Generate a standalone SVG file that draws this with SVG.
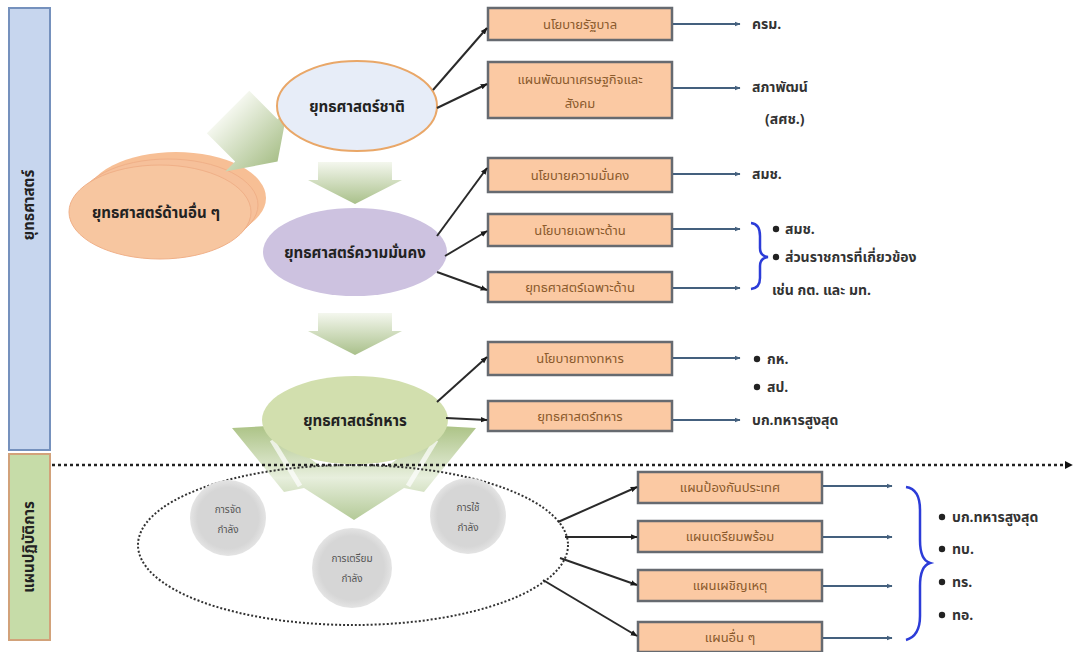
<svg xmlns="http://www.w3.org/2000/svg" width="1078" height="652" viewBox="0 0 1078 652">
  <style>
    text { font-family: "Noto Sans Thai", "Loma", "Garuda", "Noto Sans", "DejaVu Sans", sans-serif; }
    .box { fill: #fbc9a3; stroke: #666a70; stroke-width: 2.5; }
    .boxt { font-size: 13px; fill: #8a5a2c; text-anchor: middle; }
    .ell { font-size: 15px; font-weight: bold; fill: #222; text-anchor: middle; }
    .lbl { font-size: 14px; font-weight: bold; fill: #333; }
    .conn { stroke: #2a2a2a; stroke-width: 2; fill: none; marker-end: url(#dot); }
    .out { stroke: #44607e; stroke-width: 1.8; fill: none; marker-end: url(#tri); }
    .ct { font-size: 10px; fill: #555; text-anchor: middle; }
    .brace { stroke: #2c3cd8; stroke-width: 2.5; fill: none; }
    .side { font-size: 15px; font-weight: bold; fill: #222; text-anchor: middle; }
  </style>
  <defs>
    <marker id="tri" viewBox="0 0 10 10" refX="9" refY="5" markerWidth="6" markerHeight="6" orient="auto" markerUnits="userSpaceOnUse">
      <path d="M0,1 L10,5 L0,9 z" fill="#44607e"/>
    </marker>
    <marker id="dot" viewBox="0 0 10 10" refX="9" refY="5" markerWidth="7" markerHeight="7" orient="auto" markerUnits="userSpaceOnUse">
      <path d="M0,1 L10,5 L0,9 z" fill="#1a1a1a"/>
    </marker>
    <marker id="dash" viewBox="0 0 10 10" refX="9" refY="5" markerWidth="8" markerHeight="8" orient="auto" markerUnits="userSpaceOnUse">
      <path d="M0,0 L10,5 L0,10 z" fill="#111"/>
    </marker>
    <linearGradient id="gDown" x1="0" y1="0" x2="0" y2="1">
      <stop offset="0" stop-color="#f4f7ee"/>
      <stop offset="1" stop-color="#a9c08a"/>
    </linearGradient>
    <linearGradient id="gFan" x1="0" y1="0" x2="0" y2="1">
      <stop offset="0" stop-color="#a8c080"/>
      <stop offset="0.55" stop-color="#e6eedb"/>
      <stop offset="1" stop-color="#b0c792"/>
    </linearGradient>
    <radialGradient id="gCirc" cx="0.5" cy="0.5" r="0.5">
      <stop offset="0.8" stop-color="#d6d6d6"/>
      <stop offset="1" stop-color="#e4e4e4"/>
    </radialGradient>
    <path id="blockArrow" d="M -30,-48 L 30,-48 L 30,-8 L 44,-8 L 0,22 L -44,-8 L -30,-8 z"/>
  </defs>

  <rect width="1078" height="652" fill="#ffffff"/>

  <!-- side bands -->
  <g id="band-strategy">
    <rect x="9" y="8" width="41" height="442" fill="#c7d6ee" stroke="#7591bd" stroke-width="2"/>
    <text class="side" transform="translate(34,205) rotate(-90)">ยุทธศาสตร์</text>
  </g>
  <g id="band-operations">
    <rect x="9" y="454" width="41" height="186" fill="#c6dca8" stroke="#d2a27a" stroke-width="2"/>
    <text class="side" transform="translate(34,547) rotate(-90)">แผนปฏิบัติการ</text>
  </g>

  <!-- vertical block arrows -->
  <g id="flow-arrows">
    <path d="M 318,162 L 392,162 L 392,180 L 402,180 L 355,204 L 308,180 L 318,180 z" fill="url(#gDown)"/>
    <path d="M 318,313 L 392,313 L 392,331 L 402,331 L 355,355 L 308,331 L 318,331 z" fill="url(#gDown)"/>
    <!-- fan of three arrows below the military strategy -->
    <path d="M 232,428 L 268,426 L 320,466 L 388,466 L 440,426 L 476,428 L 424,492 L 404,488 L 354,520 L 304,488 L 284,492 z" fill="url(#gFan)" opacity="0.95"/>
    <path d="M 272,440 L 300,486" stroke="#ffffff" stroke-width="5" opacity="0.7"/>
    <path d="M 436,440 L 408,486" stroke="#ffffff" stroke-width="5" opacity="0.7"/>
  </g>

  <!-- dotted divider -->
  <line x1="52" y1="465" x2="1072" y2="465" stroke="#222" stroke-width="2.5" stroke-dasharray="3,3" marker-end="url(#dash)"/>

  <!-- strategy nodes -->
  <g id="node-other">
    <ellipse cx="176" cy="198" rx="90" ry="46" fill="#f7bf95"/>
    <ellipse cx="168" cy="205" rx="90" ry="46" fill="#f6c09a" stroke="#f0b088" stroke-width="1"/>
    <ellipse cx="160" cy="212" rx="91" ry="47" fill="#f7c6a0" stroke="#f0b088" stroke-width="1"/>
    <text class="ell" x="156" y="218">ยุทธศาสตร์ด้านอื่น ๆ</text>
  </g>

  <!-- diagonal block arrow towards the other strategies -->
  <g id="flow-arrow-diagonal">
    <use href="#blockArrow" fill="url(#gDown)" transform="translate(262,146) rotate(-45)"/>
  </g>

  <g id="node-national">
    <ellipse cx="357" cy="106" rx="80" ry="45" fill="#e7edf8" stroke="#e9a768" stroke-width="2"/>
    <text class="ell" x="357" y="112">ยุทธศาสตร์ชาติ</text>
  </g>
  <g id="node-security">
    <ellipse cx="355" cy="252" rx="92" ry="44" fill="#cdc2e0"/>
    <text class="ell" x="355" y="258">ยุทธศาสตร์ความมั่นคง</text>
  </g>
  <g id="node-military">
    <ellipse cx="355" cy="420" rx="93" ry="44" fill="#d2dfae"/>
    <text class="ell" x="355" y="426">ยุทธศาสตร์ทหาร</text>
  </g>

  <!-- force cluster -->
  <g id="node-force">
    <ellipse cx="353" cy="545" rx="215" ry="80" fill="none" stroke="#333" stroke-width="2" stroke-dasharray="2,2"/>
    <circle cx="228" cy="518" r="38" fill="url(#gCirc)"/>
    <text class="ct" x="228" y="513">การจัด</text>
    <text class="ct" x="228" y="533">กำลัง</text>
    <circle cx="352" cy="568" r="40" fill="url(#gCirc)"/>
    <text class="ct" x="352" y="562">การเตรียม</text>
    <text class="ct" x="352" y="582">กำลัง</text>
    <circle cx="468" cy="516" r="38" fill="url(#gCirc)"/>
    <text class="ct" x="468" y="511">การใช้</text>
    <text class="ct" x="468" y="531">กำลัง</text>
  </g>

  <!-- document boxes -->
  <g id="box-gov-policy">
    <rect class="box" x="488" y="8" width="184" height="32"/>
    <text class="boxt" x="580" y="29">นโยบายรัฐบาล</text>
  </g>
  <g id="box-econ-plan">
    <rect class="box" x="488" y="62" width="184" height="56"/>
    <text class="boxt" x="580" y="84">แผนพัฒนาเศรษฐกิจและ</text>
    <text class="boxt" x="580" y="108">สังคม</text>
  </g>
  <g id="box-sec-policy">
    <rect class="box" x="488" y="158" width="184" height="34"/>
    <text class="boxt" x="580" y="180">นโยบายความมั่นคง</text>
  </g>
  <g id="box-spec-policy">
    <rect class="box" x="488" y="214" width="184" height="32"/>
    <text class="boxt" x="580" y="235">นโยบายเฉพาะด้าน</text>
  </g>
  <g id="box-spec-strategy">
    <rect class="box" x="488" y="272" width="184" height="30"/>
    <text class="boxt" x="580" y="292">ยุทธศาสตร์เฉพาะด้าน</text>
  </g>
  <g id="box-mil-policy">
    <rect class="box" x="488" y="342" width="184" height="33"/>
    <text class="boxt" x="580" y="363">นโยบายทางทหาร</text>
  </g>
  <g id="box-mil-strategy">
    <rect class="box" x="488" y="401" width="184" height="30"/>
    <text class="boxt" x="580" y="421">ยุทธศาสตร์ทหาร</text>
  </g>
  <g id="box-defence-plan">
    <rect class="box" x="638" y="472" width="184" height="31"/>
    <text class="boxt" x="730" y="492">แผนป้องกันประเทศ</text>
  </g>
  <g id="box-ready-plan">
    <rect class="box" x="638" y="521" width="184" height="31"/>
    <text class="boxt" x="730" y="541">แผนเตรียมพร้อม</text>
  </g>
  <g id="box-contingency-plan">
    <rect class="box" x="638" y="570" width="184" height="31"/>
    <text class="boxt" x="730" y="590">แผนเผชิญเหตุ</text>
  </g>
  <g id="box-other-plan">
    <rect class="box" x="638" y="622" width="184" height="30"/>
    <text class="boxt" x="730" y="642">แผนอื่น ๆ</text>
  </g>

  <!-- connectors -->
  <g id="connectors">
    <line class="conn" x1="433" y1="90" x2="487" y2="28"/>
    <line class="conn" x1="437" y1="108" x2="487" y2="84"/>
    <line class="conn" x1="437" y1="236" x2="487" y2="168"/>
    <line class="conn" x1="445" y1="256" x2="487" y2="231"/>
    <line class="conn" x1="437" y1="272" x2="487" y2="290"/>
    <line class="conn" x1="437" y1="402" x2="487" y2="357"/>
    <line class="conn" x1="446" y1="418" x2="487" y2="420"/>
    <line class="conn" x1="558" y1="522" x2="637" y2="487"/>
    <line class="conn" x1="565" y1="537" x2="637" y2="537"/>
    <line class="conn" x1="560" y1="558" x2="637" y2="585"/>
    <line class="conn" x1="543" y1="580" x2="637" y2="636"/>

    <line class="out" x1="673" y1="24" x2="740" y2="24"/>
    <line class="out" x1="673" y1="88" x2="740" y2="88"/>
    <line class="out" x1="673" y1="174" x2="740" y2="174"/>
    <line class="out" x1="673" y1="229" x2="740" y2="229"/>
    <line class="out" x1="673" y1="288" x2="740" y2="288"/>
    <line class="out" x1="673" y1="358" x2="740" y2="358"/>
    <line class="out" x1="673" y1="420" x2="740" y2="420"/>
    <line class="out" x1="823" y1="486" x2="892" y2="486"/>
    <line class="out" x1="823" y1="537" x2="892" y2="537"/>
    <line class="out" x1="823" y1="586" x2="892" y2="586"/>
    <line class="out" x1="823" y1="638" x2="892" y2="638"/>
  </g>

  <!-- responsible agencies -->
  <g id="agencies">
    <text class="lbl" x="752" y="29">ครม.</text>
    <text class="lbl" x="752" y="92">สภาพัฒน์</text>
    <text class="lbl" x="765" y="124">(สศช.)</text>
    <text class="lbl" x="752" y="179">สมช.</text>

    <path class="brace" d="M 751,223 Q 760,224 760,236 L 760,248 Q 760,256 768,257 Q 760,258 760,266 L 760,278 Q 760,288 751,289"/>
    <circle cx="776" cy="229" r="3.2" fill="#222"/>
    <text class="lbl" x="785" y="234">สมช.</text>
    <circle cx="776" cy="257" r="3.2" fill="#222"/>
    <text class="lbl" x="785" y="262">ส่วนราชการที่เกี่ยวข้อง</text>
    <text class="lbl" x="772" y="295">เช่น กต. และ มท.</text>

    <circle cx="757" cy="359" r="3.2" fill="#222"/>
    <text class="lbl" x="767" y="364">กห.</text>
    <circle cx="757" cy="387" r="3.2" fill="#222"/>
    <text class="lbl" x="767" y="392">สป.</text>
    <text class="lbl" x="752" y="425">บก.ทหารสูงสุด</text>

    <path class="brace" d="M 906,487 Q 920,489 920,510 L 920,540 Q 920,560 930,563 Q 920,566 920,586 L 920,616 Q 920,636 906,640"/>
    <circle cx="942" cy="517" r="3.2" fill="#222"/>
    <text class="lbl" x="952" y="522">บก.ทหารสูงสุด</text>
    <circle cx="942" cy="549" r="3.2" fill="#222"/>
    <text class="lbl" x="952" y="554">ทบ.</text>
    <circle cx="942" cy="582" r="3.2" fill="#222"/>
    <text class="lbl" x="952" y="587">ทร.</text>
    <circle cx="942" cy="615" r="3.2" fill="#222"/>
    <text class="lbl" x="952" y="620">ทอ.</text>
  </g>
</svg>
